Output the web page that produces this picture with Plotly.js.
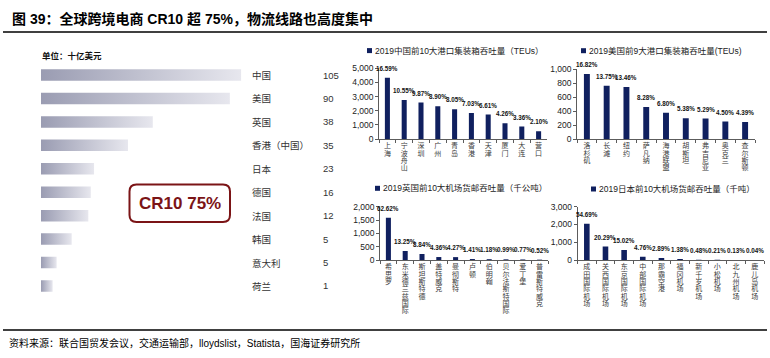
<!DOCTYPE html>
<html><head><meta charset="utf-8">
<script src="https://cdn.plot.ly/plotly-3.0.1.min.js"></script>
<style>html,body{margin:0;padding:0;background:#fff;} #chart{width:770px;height:358px;}</style>
</head><body><div id="chart"></div>
<script>
const titleText = '图 39：全球跨境电商 CR10 超 75%，物流线路也高度集中';
const sourceText = '资料来源：联合国贸发会议，交通运输部，lloydslist，Statista，国海证券研究所';
const unitText = '单位：十亿美元';
const boxText = 'CR10 75%';

const marketCountries = ['中国','美国','英国','香港（中国）','日本','德国','法国','韩国','意大利','荷兰'];
const marketValues = [105, 90, 38, 35, 23, 16, 12, 5, 5, 1];
// bar lengths as drawn in the reference (the source bars are not to scale), read in the same units as 中国 = 105
const marketBarDrawn = [105, 99, 58.6, 45.6, 27.8, 26.1, 24.8, 16.1, 8.2, 6.1];

const cnPorts = ['上海','宁波舟山','深圳','广州','青岛','香港','天津','厦门','大连','营口'];
const cnTEU = [4330, 2753, 2577, 2324, 2101, 1830, 1730, 1112, 876, 548];
const cnShare = [16.59, 10.55, 9.87, 8.90, 8.05, 7.03, 6.61, 4.26, 3.36, 2.10];
const cnLegend = '2019中国前10大港口集装箱吞吐量（TEUs）';

const usPorts = ['洛杉矶','长滩','纽约','萨凡纳','海港联盟','胡斯坦','弗吉尼亚','奥克兰','查尔斯顿'];
const usTEU = [934, 763, 747, 460, 378, 299, 294, 250, 244];
const usShare = [16.82, 13.75, 13.46, 8.28, 6.80, 5.38, 5.29, 4.50, 4.39];
const usLegend = '2019美国前9大港口集装箱吞吐量(TEUs)';

const ukAirports = ['希思罗','东米德兰兹国际','斯坦斯特德','盖特威克','曼彻斯特','卢顿','伯明翰','贝尔法斯特国际','爱丁堡','普雷斯特威克'];
const ukCargo = [1588, 336, 224, 111, 108, 36, 30, 25, 20, 13];
const ukShare = [62.62, 13.25, 8.84, 4.36, 4.27, 1.41, 1.18, 0.99, 0.77, 0.52];
const ukLegend = '2019英国前10大机场货邮吞吐量（千公吨）';

const jpAirports = ['成田国际机场','关西国际机场','东京国际机场','中部国际机场','那霸空港','福冈机场','新千岁机场','小松机场','北九州机场','鹿儿岛机场'];
const jpCargo = [2044, 758, 561, 178, 108, 52, 18, 8, 5, 1.5];
const jpShare = [54.69, 20.29, 15.02, 4.76, 2.89, 1.38, 0.48, 0.21, 0.13, 0.04];
const jpLegend = '2019日本前10大机场货邮吞吐量（千吨）';

const W = 770, H = 358;
const fx = p => p / W;
const fy = p => 1 - p / H;
const NAVY = '#10205f';
const DARKRED = '#7b1416';
const FONT = 'Arial, "Liberation Sans", "Noto Sans CJK SC", sans-serif';
const CJK = '"Noto Sans CJK SC", "Noto Sans", sans-serif';

const panels = [
  {id: 2, cats: cnPorts, vals: cnTEU, share: cnShare, legend: cnLegend, x: [379, 547], y: [68.3, 139], range: [0, 5000], dtick: 1000, leg: [367, 374, 50.6]},
  {id: 3, cats: usPorts, vals: usTEU, share: usShare, legend: usLegend, x: [577, 755], y: [69.3, 139], range: [0, 1000], dtick: 200, leg: [581, 588, 50.7]},
  {id: 4, cats: ukAirports, vals: ukCargo, share: ukShare, legend: ukLegend, x: [380, 548], y: [206.7, 260], range: [0, 2000], dtick: 500, leg: [375, 382, 188.3]},
  {id: 5, cats: jpAirports, vals: jpCargo, share: jpShare, legend: jpLegend, x: [577.5, 764], y: [206.7, 260], range: [0, 3000], dtick: 1000, leg: [591, 598, 189]}
];

const data = [{
  type: 'bar', orientation: 'h', x: marketBarDrawn, y: marketCountries,
  xaxis: 'x', yaxis: 'y', width: 0.49, marker: {color: '#bfc0cd', line: {width: 0}}, hoverinfo: 'skip'
}];

const layout = {
  width: W, height: H, autosize: false,
  margin: {l: 0, r: 0, t: 0, b: 0},
  paper_bgcolor: '#fff', plot_bgcolor: 'rgba(0,0,0,0)',
  showlegend: false,
  font: {family: FONT, color: '#222'},
  title: {
    text: '<b>' + titleText + '</b>',
    font: {family: FONT, size: 14, color: '#000'},
    x: fx(12), xanchor: 'left', xref: 'paper',
    y: fy(19.5), yanchor: 'middle', yref: 'paper'
  },
  xaxis: {domain: [fx(41), fx(241.3)], range: [0, 105], visible: false, fixedrange: true},
  yaxis: {domain: [fy(297.7), fy(63.3)], type: 'category', autorange: 'reversed', visible: false, fixedrange: true},
  annotations: [],
  shapes: []
};

// left panel labels
marketCountries.forEach((c, i) => {
  layout.annotations.push({xref: 'paper', yref: 'y', x: fx(250), xanchor: 'left', y: c, text: c,
    showarrow: false, font: {family: CJK, size: 9.5, color: '#333'}});
  layout.annotations.push({xref: 'paper', yref: 'y', x: fx(321), xanchor: 'left', y: c, text: String(marketValues[i]),
    showarrow: false, font: {family: FONT, size: 9.5, color: '#333'}});
});
layout.annotations.push({xref: 'paper', yref: 'paper', x: fx(40), xanchor: 'left', y: fy(55), yanchor: 'middle',
  text: '<b>' + unitText + '</b>', showarrow: false, font: {family: CJK, size: 8.5, color: '#111'}});
layout.annotations.push({xref: 'paper', yref: 'paper', x: fx(180), xanchor: 'center', y: fy(203), yanchor: 'middle',
  text: '<b>' + boxText + '</b>', showarrow: false, font: {family: FONT, size: 17, color: DARKRED}});

// rounded box
function roundedRect(x0, y0, x1, y1, r) {
  const X = p => fx(p).toFixed(5), Y = p => fy(p).toFixed(5);
  return 'M' + X(x0 + r) + ',' + Y(y0) + ' L' + X(x1 - r) + ',' + Y(y0) +
    ' Q' + X(x1) + ',' + Y(y0) + ' ' + X(x1) + ',' + Y(y0 + r) +
    ' L' + X(x1) + ',' + Y(y1 - r) +
    ' Q' + X(x1) + ',' + Y(y1) + ' ' + X(x1 - r) + ',' + Y(y1) +
    ' L' + X(x0 + r) + ',' + Y(y1) +
    ' Q' + X(x0) + ',' + Y(y1) + ' ' + X(x0) + ',' + Y(y1 - r) +
    ' L' + X(x0) + ',' + Y(y0 + r) +
    ' Q' + X(x0) + ',' + Y(y0) + ' ' + X(x0 + r) + ',' + Y(y0) + ' Z';
}
layout.shapes.push({type: 'path', xref: 'paper', yref: 'paper', path: roundedRect(129.5, 184.5, 230, 222, 7),
  line: {color: DARKRED, width: 2}, fillcolor: 'rgba(0,0,0,0)'});

// header and footer rules
layout.shapes.push({type: 'line', xref: 'paper', yref: 'paper', x0: fx(3), x1: fx(767), y0: fy(32), y1: fy(32), line: {color: '#000', width: 1.3}});
layout.shapes.push({type: 'line', xref: 'paper', yref: 'paper', x0: fx(3), x1: fx(767), y0: fy(330), y1: fy(330), line: {color: '#000', width: 1.3}});
layout.annotations.push({xref: 'paper', yref: 'paper', x: fx(7), xanchor: 'left', y: fy(342.5), yanchor: 'middle',
  text: sourceText, showarrow: false, font: {family: FONT, size: 10, color: '#000'}});

panels.forEach(p => {
  const xa = 'x' + p.id, ya = 'y' + p.id;
  data.push({type: 'bar', x: p.cats, y: p.vals, xaxis: xa, yaxis: ya, width: 0.3,
    marker: {color: NAVY, line: {width: 0}}, hoverinfo: 'skip'});
  layout['xaxis' + p.id] = {
    domain: [fx(p.x[0]), fx(p.x[1])], anchor: ya, type: 'category',
    range: [-0.5, p.cats.length - 0.5],
    tickmode: 'array', tickvals: p.cats, ticktext: p.cats.map(c => c.split('').join('<br>')),
    tickangle: 0,
    showline: true, linecolor: '#333', linewidth: 0.8,
    ticks: 'outside', ticklen: 3, tickwidth: 0.8, tickcolor: '#333', tickson: 'boundaries',
    tickfont: {family: CJK, size: 7, color: '#3a3a3a'},
    showgrid: false, zeroline: false, fixedrange: true
  };
  layout['yaxis' + p.id] = {
    domain: [fy(p.y[1]), fy(p.y[0])], anchor: xa,
    range: p.range, tick0: 0, dtick: p.dtick, tickformat: ',d',
    showline: true, linecolor: '#333', linewidth: 0.8,
    ticks: 'outside', ticklen: 3, tickwidth: 0.8, tickcolor: '#333',
    tickfont: {family: FONT, size: 8.5, color: '#222'},
    showgrid: false, zeroline: false, fixedrange: true
  };
  p.cats.forEach((c, i) => {
    layout.annotations.push({xref: xa, yref: ya, x: c, y: p.vals[i], yanchor: 'middle', yshift: 9.5,
      text: '<b>' + p.share[i].toFixed(2) + '%</b>', showarrow: false, borderpad: 0,
      font: {family: FONT, size: 6.3, color: '#111'}});
  });
  // legend
  layout.shapes.push({type: 'rect', xref: 'paper', yref: 'paper',
    x0: fx(p.leg[0]), x1: fx(p.leg[0] + 5), y0: fy(p.leg[2] - 2.5), y1: fy(p.leg[2] + 2.5),
    fillcolor: NAVY, line: {width: 0}});
  layout.annotations.push({xref: 'paper', yref: 'paper', x: fx(p.leg[1] - 1), xanchor: 'left', y: fy(p.leg[2]), yanchor: 'middle',
    text: p.legend, showarrow: false, font: {family: FONT, size: 8.5, color: '#222'}});
});

Plotly.newPlot('chart', data, layout, {staticPlot: true, displayModeBar: false}).then(gd => {
  const ns = 'http://www.w3.org/2000/svg';
  const svg = gd.querySelector('svg.main-svg');
  let defs = svg.querySelector('defs');
  if (!defs) { defs = document.createElementNS(ns, 'defs'); svg.insertBefore(defs, svg.firstChild); }
  const lg = document.createElementNS(ns, 'linearGradient');
  lg.setAttribute('id', 'barGrad');
  lg.setAttribute('x1', '0'); lg.setAttribute('y1', '0'); lg.setAttribute('x2', '1'); lg.setAttribute('y2', '0');
  [['0', '#9a9cb2'], ['1', '#e7e7ee']].forEach(s => {
    const st = document.createElementNS(ns, 'stop');
    st.setAttribute('offset', s[0]); st.setAttribute('stop-color', s[1]);
    lg.appendChild(st);
  });
  defs.appendChild(lg);
  gd.querySelectorAll('.subplot.xy .trace.bars path').forEach(el => { el.style.fill = 'url(#barGrad)'; });
  // stack the vertical category labels tightly (one character per line)
  gd.querySelectorAll('.xaxislayer-above text tspan.line').forEach(t => {
    const dy = parseFloat(t.getAttribute('dy')) || 0;
    t.setAttribute('dy', (dy / 1.3 * 1.05) + 'em');
  });
});
</script>
</body></html>
